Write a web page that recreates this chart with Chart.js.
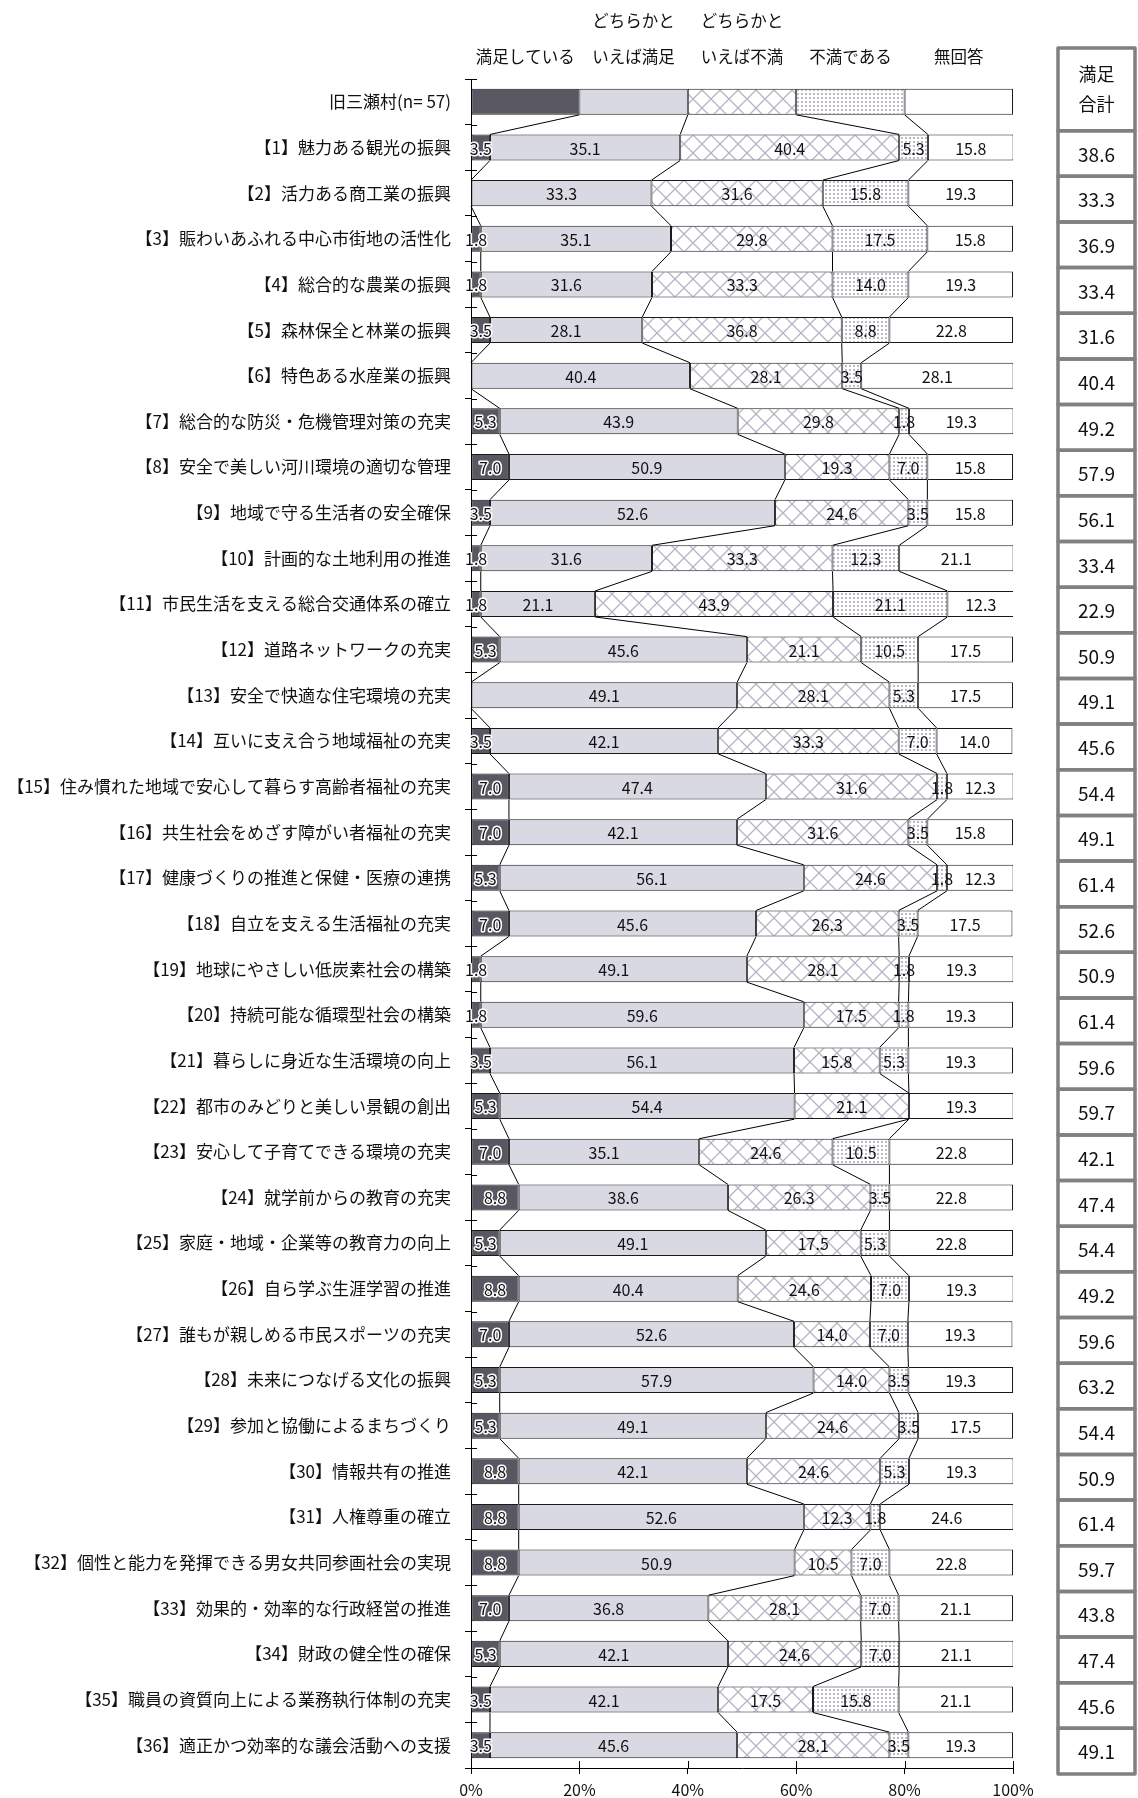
<!DOCTYPE html>
<html><head><meta charset="utf-8">
<script src="https://cdn.jsdelivr.net/npm/chart.js@4.4.1/dist/chart.umd.min.js"></script>
<style>html,body{margin:0;padding:0;background:#fff;} canvas{display:block;}</style>
</head><body>
<canvas id="c" width="1138" height="1798" style="width:1138px;height:1798px"></canvas>
<script>
const categories = [
 '旧三瀬村(n= 57)',
 '【1】魅力ある観光の振興',
 '【2】活力ある商工業の振興',
 '【3】賑わいあふれる中心市街地の活性化',
 '【4】総合的な農業の振興',
 '【5】森林保全と林業の振興',
 '【6】特色ある水産業の振興',
 '【7】総合的な防災・危機管理対策の充実',
 '【8】安全で美しい河川環境の適切な管理',
 '【9】地域で守る生活者の安全確保',
 '【10】計画的な土地利用の推進',
 '【11】市民生活を支える総合交通体系の確立',
 '【12】道路ネットワークの充実',
 '【13】安全で快適な住宅環境の充実',
 '【14】互いに支え合う地域福祉の充実',
 '【15】住み慣れた地域で安心して暮らす高齢者福祉の充実',
 '【16】共生社会をめざす障がい者福祉の充実',
 '【17】健康づくりの推進と保健・医療の連携',
 '【18】自立を支える生活福祉の充実',
 '【19】地球にやさしい低炭素社会の構築',
 '【20】持続可能な循環型社会の構築',
 '【21】暮らしに身近な生活環境の向上',
 '【22】都市のみどりと美しい景観の創出',
 '【23】安心して子育てできる環境の充実',
 '【24】就学前からの教育の充実',
 '【25】家庭・地域・企業等の教育力の向上',
 '【26】自ら学ぶ生涯学習の推進',
 '【27】誰もが親しめる市民スポーツの充実',
 '【28】未来につなげる文化の振興',
 '【29】参加と協働によるまちづくり',
 '【30】情報共有の推進',
 '【31】人権尊重の確立',
 '【32】個性と能力を発揮できる男女共同参画社会の実現',
 '【33】効果的・効率的な行政経営の推進',
 '【34】財政の健全性の確保',
 '【35】職員の資質向上による業務執行体制の充実',
 '【36】適正かつ効率的な議会活動への支援'
];
const seriesNames = [['満足している'], ['どちらかと','いえば満足'], ['どちらかと','いえば不満'], ['不満である'], ['無回答']];
const satisfied = [20, 3.5,0,1.8,1.8,3.5,0,5.3,7.0,3.5,1.8,1.8,5.3,0,3.5,7.0,7.0,5.3,7.0,1.8,1.8,3.5,5.3,7.0,8.8,5.3,8.8,7.0,5.3,5.3,8.8,8.8,8.8,7.0,5.3,3.5,3.5];
const ratherSatisfied = [20, 35.1,33.3,35.1,31.6,28.1,40.4,43.9,50.9,52.6,31.6,21.1,45.6,49.1,42.1,47.4,42.1,56.1,45.6,49.1,59.6,56.1,54.4,35.1,38.6,49.1,40.4,52.6,57.9,49.1,42.1,52.6,50.9,36.8,42.1,42.1,45.6];
const ratherDissatisfied = [20, 40.4,31.6,29.8,33.3,36.8,28.1,29.8,19.3,24.6,33.3,43.9,21.1,28.1,33.3,31.6,31.6,24.6,26.3,28.1,17.5,15.8,21.1,24.6,26.3,17.5,24.6,14.0,14.0,24.6,24.6,12.3,10.5,28.1,24.6,17.5,28.1];
const dissatisfied = [20, 5.3,15.8,17.5,14.0,8.8,3.5,1.8,7.0,3.5,12.3,21.1,10.5,5.3,7.0,1.8,3.5,1.8,3.5,1.8,1.8,5.3,0,10.5,3.5,5.3,7.0,7.0,3.5,3.5,5.3,1.8,7.0,7.0,7.0,15.8,3.5];
const noAnswer = [20, 15.8,19.3,15.8,19.3,22.8,28.1,19.3,15.8,15.8,21.1,12.3,17.5,17.5,14.0,12.3,15.8,12.3,17.5,19.3,19.3,19.3,19.3,22.8,22.8,22.8,19.3,19.3,19.3,17.5,19.3,24.6,22.8,21.1,21.1,21.1,19.3];
const satisfiedTotalTitle = ['満足', '合計'];
const satisfiedTotal = [38.6,33.3,36.9,33.4,31.6,40.4,49.2,57.9,56.1,33.4,22.9,50.9,49.1,45.6,54.4,49.1,61.4,52.6,50.9,61.4,59.6,59.7,42.1,47.4,54.4,49.2,59.6,63.2,54.4,50.9,61.4,59.7,43.8,47.4,45.6,49.1];
const xTicks = [0,20,40,60,80,100];

const FONT = '"Noto Sans CJK JP", "Noto Sans", sans-serif';

function crossPattern(){
  const s=18, c=document.createElement('canvas'); c.width=s; c.height=s;
  const g=c.getContext('2d'); g.fillStyle='#fff'; g.fillRect(0,0,s,s);
  g.strokeStyle='#b4b4c4'; g.lineWidth=1.3;
  g.beginPath(); g.moveTo(-1,-1); g.lineTo(s+1,s+1); g.moveTo(s+1,-1); g.lineTo(-1,s+1); g.stroke();
  return g.createPattern(c,'repeat');
}
function dotPattern(){
  const s=4, c=document.createElement('canvas'); c.width=s; c.height=s;
  const g=c.getContext('2d'); g.fillStyle='#fff'; g.fillRect(0,0,s,s);
  g.fillStyle='#bcbcc8'; g.fillRect(1,1,2,2);
  return g.createPattern(c,'repeat');
}

const series = [satisfied, ratherSatisfied, ratherDissatisfied, dissatisfied, noAnswer];
const fills = ['#585762', '#d9d9e3', crossPattern(), dotPattern(), '#ffffff'];

const overlay = {
  id: 'overlay',
  afterDatasetsDraw(chart){
    const ctx=chart.ctx, xs=chart.scales.x, ys=chart.scales.y, area=chart.chartArea;
    ctx.save();
    // connector lines
    ctx.strokeStyle='#000'; ctx.lineWidth=1;
    const m0 = chart.getDatasetMeta(0).data;
    for (let i=0;i<categories.length-1;i++){
      const a=m0[i], b=m0[i+1];
      const aBot=a.y+a.height/2, bTop=b.y-b.height/2;
      let ca=0, cb=0;
      for (let k=0;k<4;k++){
        ca+=series[k][i]; cb+=series[k][i+1];
        ctx.beginPath(); ctx.moveTo(xs.getPixelForValue(ca), aBot); ctx.lineTo(xs.getPixelForValue(cb), bTop); ctx.stroke();
      }
    }
    // inner tick marks
    const step = ys.getPixelForValue(1)-ys.getPixelForValue(0);
    for (let i=0;i<=categories.length;i++){
      const y = Math.round(ys.getPixelForValue(i)-step/2)+0.5;
      ctx.beginPath(); ctx.moveTo(area.left, y); ctx.lineTo(area.left+6, y); ctx.stroke();
    }
    xTicks.forEach(v=>{
      const x=Math.round(xs.getPixelForValue(v))+0.5;
      ctx.beginPath(); ctx.moveTo(x, area.bottom-7); ctx.lineTo(x, area.bottom); ctx.stroke();
    });
    // value labels
    ctx.font = '16px '+FONT; ctx.textAlign='center'; ctx.textBaseline='middle';
    for (let d=0; d<series.length; d++){
      const meta=chart.getDatasetMeta(d).data;
      for (let i=1;i<categories.length;i++){
        const v=series[d][i]; if(!v) continue;
        const el=meta[i]; const cx=(el.x+el.base)/2, cy=el.y+1;
        const t=v.toFixed(1);
        if (d===0){ ctx.strokeStyle='#fff'; ctx.lineWidth=3; ctx.lineJoin='round'; ctx.strokeText(t,cx,cy); }
        ctx.fillStyle='#111'; ctx.fillText(t,cx,cy);
      }
    }
    // series headers
    ctx.font='16.5px '+FONT; ctx.fillStyle='#111';
    let cum=0;
    for (let d=0; d<series.length; d++){
      const v=series[d][0]; const cx=xs.getPixelForValue(cum+v/2); cum+=v;
      const lines=seriesNames[d];
      if (lines.length===2){ ctx.fillText(lines[0],cx,21); ctx.fillText(lines[1],cx,57); }
      else ctx.fillText(lines[0],cx,57);
    }
    // right column table
    const bx=1058, bw=77;
    ctx.strokeStyle='#808080'; ctx.lineWidth=3.5;
    const rowTop = i => ys.getPixelForValue(i)-step/2+6;
    const headTop=48, headBot=rowTop(1);
    ctx.strokeRect(bx, headTop, bw, headBot-headTop);
    ctx.font='18px '+FONT; ctx.fillStyle='#111';
    const hc=(headTop+headBot)/2;
    ctx.fillText(satisfiedTotalTitle[0], bx+bw/2, hc-15);
    ctx.fillText(satisfiedTotalTitle[1], bx+bw/2, hc+15);
    ctx.font='19px '+FONT;
    for (let i=0;i<satisfiedTotal.length;i++){
      const t=rowTop(i+1), b=rowTop(i+2);
      ctx.strokeRect(bx, t, bw, b-t);
      ctx.fillText(satisfiedTotal[i].toFixed(1), bx+bw/2, (t+b)/2+1);
    }
    ctx.restore();
  }
};

new Chart(document.getElementById('c'), {
  type: 'bar',
  data: {
    labels: categories,
    datasets: series.map((s,d)=>({
      label: seriesNames[d].join(''),
      data: s,
      backgroundColor: fills[d],
      borderColor: '#1a1a1a',
      borderWidth: 1,
      borderSkipped: false,
      barPercentage: 0.57,
      categoryPercentage: 1.0
    }))
  },
  options: {
    indexAxis: 'y',
    responsive: false,
    animation: false,
    devicePixelRatio: 1,
    layout: { padding: { top: 79, right: 125, left: 0, bottom: 0 } },
    plugins: { legend: { display: false }, tooltip: { enabled: false } },
    scales: {
      x: {
        stacked: true, min: 0, max: 100,
        afterBuildTicks: s => { s.ticks = xTicks.map(v=>({value:v})); },
        afterFit: s => { s.height = 30; },
        grid: { drawOnChartArea: false, drawTicks: true, tickLength: 6, color: '#000' },
        border: { display: true, color: '#000', width: 1 },
        ticks: { callback: v => v+'%', color: '#111', font: { family: FONT, size: 16 }, padding: 6, maxRotation: 0 }
      },
      y: {
        stacked: true,
        afterFit: s => { s.width = 471; },
        grid: { offset: true, drawOnChartArea: false, drawTicks: true, tickLength: 6, color: '#000' },
        border: { display: true, color: '#000', width: 1 },
        ticks: { color: '#111', font: { family: FONT, size: 17 }, padding: 14, autoSkip: false }
      }
    }
  },
  plugins: [overlay]
});
</script>
</body></html>
